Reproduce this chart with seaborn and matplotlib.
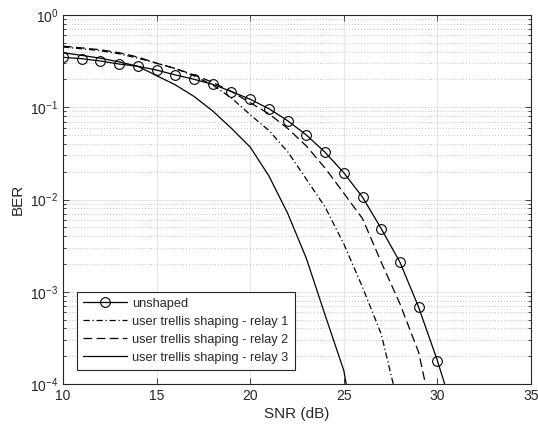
import matplotlib

matplotlib.use("Agg")
import matplotlib.pyplot as plt
import seaborn as sns
from matplotlib.ticker import LogLocator, NullFormatter

sns.set_theme(style="ticks")
plt.rcParams["font.family"] = ["Liberation Sans", "DejaVu Sans"]

# SNR grid (dB)
snr = [10, 11, 12, 13, 14, 15, 16, 17, 18, 19, 20, 21, 22, 23, 24, 25, 26,
       27, 28, 29, 30, 31]

# BER
ber_unshaped = [0.348, 0.336, 0.317, 0.294, 0.278, 0.253, 0.224, 0.201, 0.177,
                0.148, 0.122, 0.0964, 0.0715, 0.050, 0.0325, 0.0195, 0.0106,
                0.00483, 0.00209, 6.78e-4, 1.79e-4, 4.0e-5]
ber_relay1 = [0.45, 0.43, 0.41, 0.38, 0.34, 0.30, 0.263, 0.219, 0.174, 0.126,
              0.083, 0.056, 0.033, 0.0166, 0.0083, 0.0033, 0.00112, 3.47e-4,
              5.0e-5]
ber_relay2 = [0.46, 0.44, 0.42, 0.39, 0.35, 0.30, 0.263, 0.224, 0.186, 0.148,
              0.112, 0.085, 0.059, 0.038, 0.0219, 0.0117, 0.0062, 0.00209,
              7.4e-4, 2.2e-4, 2.5e-5]
ber_relay3 = [0.39, 0.365, 0.34, 0.31, 0.278, 0.22, 0.175, 0.131, 0.091, 0.059,
              0.037, 0.018, 0.0071, 0.0023, 5.6e-4, 1.4e-4, 1.0e-5]

labels = ["unshaped",
          "user trellis shaping - relay 1",
          "user trellis shaping - relay 2",
          "user trellis shaping - relay 3"]

fig = plt.figure(figsize=(5.38, 4.29), dpi=100)
ax = fig.add_axes([63 / 538, 1 - 384 / 429, 468 / 538, 369 / 429])

lw = 0.9
sns.lineplot(x=snr, y=ber_unshaped, ax=ax, color="black", lw=lw,
             marker="o", markersize=7, markerfacecolor="none",
             markeredgecolor="black", markeredgewidth=0.8,
             markevery=list(range(21)), label=labels[0])
sns.lineplot(x=snr[:len(ber_relay1)], y=ber_relay1, ax=ax, color="black",
             lw=lw, label=labels[1])
ax.lines[-1].set_dashes((5, 2.2, 1, 2.2))
sns.lineplot(x=snr[:len(ber_relay2)], y=ber_relay2, ax=ax, color="black",
             lw=lw, label=labels[2])
ax.lines[-1].set_dashes((7, 3.5))
sns.lineplot(x=snr[:len(ber_relay3)], y=ber_relay3, ax=ax, color="black",
             lw=lw, label=labels[3])

ax.set_yscale("log")
ax.set_xlim(10, 35)
ax.set_ylim(1e-4, 1)
ax.set_xticks([10, 15, 20, 25, 30, 35])
ax.yaxis.set_major_locator(LogLocator(base=10, numticks=10))
ax.yaxis.set_minor_locator(LogLocator(base=10, subs=range(2, 10), numticks=20))
ax.yaxis.set_minor_formatter(NullFormatter())

ax.grid(which="major", color="#e6e6e6", lw=0.8, ls="-")
ax.grid(which="minor", axis="y", color="#b0b0b0", lw=0.6, ls=(0, (1, 2.5)))
ax.set_axisbelow(True)

for side in ["top", "right", "bottom", "left"]:
    ax.spines[side].set_visible(True)
    ax.spines[side].set_color("#262626")
    ax.spines[side].set_linewidth(0.8)
ax.tick_params(which="both", direction="in", top=True, right=True,
               labelsize=10, colors="#262626", width=0.6)
ax.tick_params(which="major", length=4)
ax.tick_params(which="minor", length=2)

ax.set_xlabel("SNR (dB)", fontsize=11, labelpad=3)
ax.set_ylabel("BER", fontsize=11, labelpad=4)

leg = ax.legend(loc="lower left", bbox_to_anchor=(0.03, 0.038),
                borderaxespad=0, fontsize=9.2, fancybox=False, framealpha=1,
                edgecolor="#262626", handlelength=3.4, handletextpad=0.4,
                borderpad=0.5, labelspacing=0.46)
leg.get_frame().set_linewidth(0.8)

fig.savefig("out.png", dpi=100)
